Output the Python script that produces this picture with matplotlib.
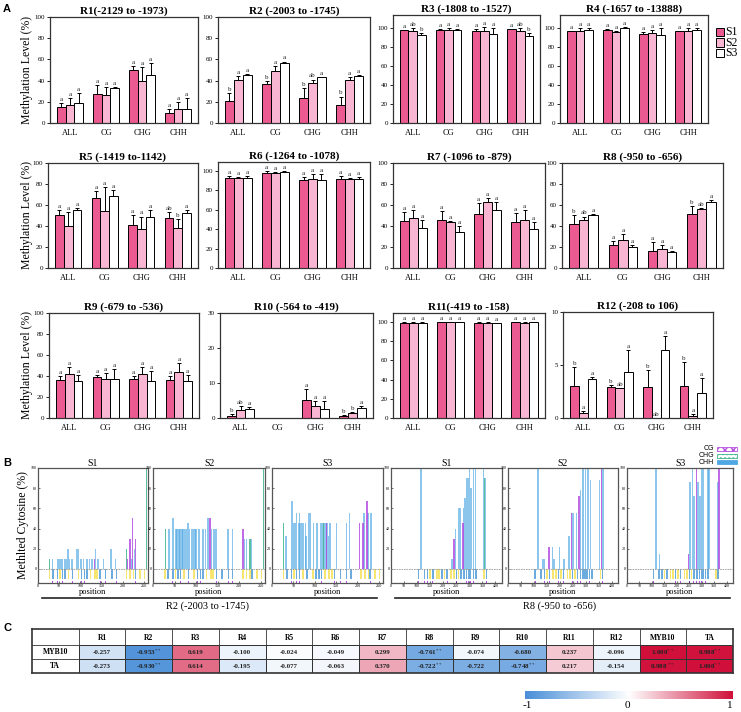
import numpy as np
import matplotlib
matplotlib.use("Agg")
import matplotlib.pyplot as plt
from matplotlib.patches import Rectangle
from matplotlib.lines import Line2D
from matplotlib.colors import LinearSegmentedColormap

plt.rcParams['font.family'] = ['Liberation Serif', 'DejaVu Serif']
plt.rcParams['mathtext.fontset'] = 'stix'

W, H = 741, 712

# ---------------- panel A data ----------------
contexts = ['ALL', 'CG', 'CHG', 'CHH']
samples = ['S1', 'S2', 'S3']
sample_colors = ['#EC5A92', '#F8B6D2', '#FFFFFF']

region_titles = ['R1(-2129 to -1973)', 'R2 (-2003 to -1745)', 'R3 (-1808 to -1527)', 'R4 (-1657 to -13888)',
                 'R5 (-1419 to-1142)', 'R6 (-1264 to -1078)', 'R7 (-1096 to -879)', 'R8 (-950 to -656)',
                 'R9 (-679 to -536)', 'R10 (-564 to -419)', 'R11(-419 to -158)', 'R12 (-208 to 106)']

# rows: ALL, CG, CHG, CHH ; cols: S1, S2, S3
mean_r1 = [[15, 17, 19], [27, 26, 33], [50, 40, 45], [9, 13, 13]]
err_r1 = [[4, 7, 9], [9, 8, 1], [4, 13, 12], [4, 7, 11]]
let_r1 = [['a', 'a', 'a'], ['a', 'a', 'a'], ['a', 'a', 'a'], ['a', 'a', 'a']]

mean_r2 = [[21, 41, 45], [37, 49, 57], [24, 38, 43], [17, 41, 44]]
err_r2 = [[7, 3, 1], [3, 5, 1], [9, 3, 0.5], [8, 2, 1]]
let_r2 = [['b', 'a', 'a'], ['b', 'a', 'a'], ['b', 'ab', 'a'], ['b', 'a', 'a']]

mean_r3 = [[98, 97, 93], [98, 98, 98], [97, 97, 94], [99, 97, 92]]
err_r3 = [[0.5, 3, 2], [1, 2, 1], [2, 4, 6], [0.3, 3, 3]]
let_r3 = [['a', 'ab', 'b'], ['a', 'a', 'a'], ['a', 'a', 'a'], ['a', 'ab', 'b']]

mean_r4 = [[97, 97, 98], [98, 96, 100], [94, 95, 93], [97, 97, 98]]
err_r4 = [[0.5, 3, 2], [1, 1, 1.5], [2, 3, 7], [0.3, 3, 2]]
let_r4 = [['a', 'a', 'a'], ['a', 'a', 'a'], ['a', 'a', 'a'], ['a', 'a', 'a']]

mean_r5 = [[50, 40, 55], [67, 54, 69], [41, 37, 49], [48, 38, 52]]
err_r5 = [[5, 13, 2], [6, 23, 5], [9, 12, 6], [5, 9, 3]]
let_r5 = [['a', 'a', 'a'], ['a', 'a', 'a'], ['a', 'a', 'a'], ['ab', 'b', 'a']]

mean_r6 = [[93, 93, 93], [98, 98, 99], [91, 92, 90], [92, 92, 92]]
err_r6 = [[2, 1, 2], [2, 0.5, 0.5], [3, 5, 7], [3, 0.3, 2]]
let_r6 = [['a', 'a', 'a'], ['a', 'a', 'a'], ['a', 'a', 'a'], ['a', 'a', 'a']]

mean_r7 = [[45, 48, 38], [46, 44, 34], [51, 63, 55], [44, 46, 37]]
err_r7 = [[8, 7, 8], [8, 0.5, 6], [11, 4, 8], [8, 9, 7]]
let_r7 = [['a', 'a', 'a'], ['a', 'a', 'a'], ['a', 'a', 'a'], ['a', 'a', 'a']]

mean_r8 = [[42, 46, 50], [22, 27, 20], [16, 18, 15], [51, 56, 63]]
err_r8 = [[8, 3, 1], [4, 5, 2], [9, 4, 1], [8, 1, 2]]
let_r8 = [['b', 'ab', 'a'], ['a', 'a', 'a'], ['a', 'a', 'a'], ['b', 'ab', 'a']]

mean_r9 = [[36, 42, 35], [39, 37, 37], [37, 42, 35], [36, 44, 35]]
err_r9 = [[4, 7, 6], [2, 6, 10], [3, 7, 10], [4, 8, 6]]
let_r9 = [['a', 'a', 'a'], ['a', 'a', 'a'], ['a', 'a', 'a'], ['a', 'a', 'a']]

mean_r10 = [[0.7, 2.2, 2.6], [0, 0, 0], [5.1, 3.3, 2.6], [0.7, 1.4, 2.9]]
err_r10 = [[0.5, 1.3, 0.5], [0, 0, 0], [3.3, 1.6, 2.2], [0.2, 0.2, 0.5]]
let_r10 = [['b', 'ab', 'a'], ['', '', ''], ['a', 'a', 'a'], ['b', 'b', 'a']]

mean_r11 = [[99.5, 99.5, 99.5], [100, 100, 100], [99.5, 99.5, 99], [100, 99.5, 99.7]]
err_r11 = [[0.5, 0.3, 0.3], [0.2, 0.2, 0.2], [0.5, 0.3, 0.3], [0.2, 0.3, 0.5]]
let_r11 = [['a', 'a', 'a'], ['a', 'a', 'a'], ['a', 'a', 'a'], ['a', 'a', 'a']]

mean_r12 = [[3.0, 0.5, 3.7], [2.9, 2.8, 4.3], [2.9, 0, 6.4], [3.0, 0.2, 2.4]]
err_r12 = [[1.8, 0.2, 0.2], [0.2, 0, 2.1], [1.6, 0, 1.3], [2.3, 0.2, 1.4]]
let_r12 = [['b', 'a', 'a'], ['b', 'ab', 'a'], ['b', 'ab', 'a'], ['b', 'a', 'a']]

a_means = [mean_r1, mean_r2, mean_r3, mean_r4, mean_r5, mean_r6,
           mean_r7, mean_r8, mean_r9, mean_r10, mean_r11, mean_r12]
a_errs = [err_r1, err_r2, err_r3, err_r4, err_r5, err_r6,
          err_r7, err_r8, err_r9, err_r10, err_r11, err_r12]
a_lets = [let_r1, let_r2, let_r3, let_r4, let_r5, let_r6,
          let_r7, let_r8, let_r9, let_r10, let_r11, let_r12]

# ---------------- panel B data ----------------
# (position, % methylated) per context
r2_s1_chh = [(34, 10), (46, 10), (50, 10), (54, 10), (58, 10), (62, 10), (66, 10), (71, 20), (74, 10),
             (79, 10), (82, 10), (92, 20), (96, 20), (102, 10), (108, 10), (116, 10), (122, 10),
             (128, 10), (136, 20), (142, 10), (155, 10), (173, 20), (183, 10), (222, 10), (228, 20)]
r2_s1_chg = [(27, 10), (209, 20), (256, 100)]
r2_s1_cg = [(133, 10), (211, 10), (217, 30), (224, 50), (231, 30)]

r2_s2_chh = [(37, 40), (46, 50), (53, 40), (56, 40), (60, 40), (63, 40), (67, 40), (70, 40), (74, 40),
             (78, 40), (81, 45), (85, 40), (89, 40), (93, 40), (97, 40), (100, 40), (107, 40),
             (116, 40), (122, 40), (128, 50), (136, 40), (140, 40), (144, 40), (147, 40), (174, 40),
             (184, 40), (212, 30), (217, 30), (229, 30)]
r2_s2_chg = [(29, 40), (225, 30), (256, 100)]
r2_s2_cg = [(132, 50), (209, 40)]

r2_s3_chh = [(33, 33), (47, 67), (50, 45), (54, 45), (58, 55), (62, 45), (64, 55), (66, 45), (70, 45),
             (74, 45), (78, 45), (80, 33), (85, 55), (89, 55), (97, 45), (105, 45), (115, 45),
             (118, 45), (122, 45), (126, 45), (129, 45), (132, 33), (136, 45), (151, 45), (174, 45),
             (182, 55), (216, 55), (225, 55), (232, 55)]
r2_s3_chg = [(27, 45), (120, 45)]
r2_s3_cg = [(128, 45), (205, 45), (213, 45), (222, 67)]

r2_neg_chh = [27, 52, 72, 96, 124, 134, 140, 209, 217, 226, 241, 252]
r2_neg_cg = [35, 46, 58, 64, 82, 103, 110, 116, 147, 160, 175, 185, 230]

r8_s1_chh = [(115, 100), (233, 10), (246, 40), (259, 60), (265, 60), (278, 60), (284, 70), (291, 90),
             (297, 90), (301, 100), (307, 80), (316, 100), (323, 100), (355, 100), (361, 90)]
r8_s1_chg = [(358, 90)]
r8_s1_cg = [(242, 30), (276, 45)]

r8_s2_chh = [(116, 100), (135, 10), (141, 10), (171, 22), (178, 10), (200, 22), (216, 10), (236, 33),
             (251, 55), (264, 55), (280, 78), (287, 100), (292, 100), (300, 100), (309, 100),
             (318, 88), (354, 88), (367, 100)]
r8_s2_chg = []
r8_s2_cg = [(158, 22), (245, 55), (274, 72), (361, 100)]

r8_s3_chh = [(117, 100), (130, 15), (252, 86), (263, 100), (268, 72), (285, 86), (292, 72), (299, 100),
             (305, 100), (325, 100), (329, 100), (365, 86)]
r8_s3_chg = []
r8_s3_cg = [(246, 15), (279, 100), (369, 100)]

r8_neg_chh = [150, 175, 185, 205, 230, 240, 258, 357]
r8_neg_cg = [105, 128, 140, 160, 195, 215, 250, 268, 280, 290, 298, 305, 315, 325, 365]

# ---------------- panel C data ----------------
corr_cols = ['R1', 'R2', 'R3', 'R4', 'R5', 'R6', 'R7', 'R8', 'R9', 'R10', 'R11', 'R12', 'MYB10', 'TA']
corr_rows = ['MYB10', 'TA']
corr_myb10 = [-0.257, -0.953, 0.619, -0.100, -0.024, -0.049, 0.299, -0.761, -0.074, -0.680, 0.237, -0.096, 1.000, 0.988]
corr_ta = [-0.273, -0.930, 0.614, -0.195, -0.077, -0.063, 0.370, -0.722, -0.722, -0.748, 0.217, -0.154, 0.988, 1.000]
sig_myb10 = ['', '**', '', '', '', '', '', '**', '', '', '', '', '**', '**']
sig_ta = ['', '**', '', '', '', '', '', '**', '', '**', '', '', ' **', '**']

fig = plt.figure(figsize=(W / 100, H / 100), dpi=100)


def px_axes(l, t, r, b):
    return fig.add_axes([l / W, 1 - b / H, (r - l) / W, (b - t) / H])


# ---------------- panel A ----------------
a_boxes = [(50, 17, 198, 123), (218, 17, 370, 123), (393, 15, 540, 123), (560, 15, 708, 123),
           (48, 163, 198, 268), (218, 162, 370, 268), (393, 163, 545, 268), (562, 163, 723, 268),
           (49, 313, 199, 418), (220, 313, 373, 418), (393, 313, 545, 418), (563, 312, 713, 418)]
a_tops = [100, 100, 114, 114, 100, 109, 100, 100, 100, 30, 109.5, 10]
a_ticks = [np.arange(0, 101, 20)] * 9 + [np.arange(0, 31, 10), np.arange(0, 101, 20), np.arange(0, 11, 5)]

bw = 0.24
for i in range(12):
    ax = px_axes(*a_boxes[i])
    mean = np.array(a_means[i], dtype=float)
    err = np.array(a_errs[i], dtype=float)
    top = a_tops[i]
    x = np.arange(4)
    for k in range(3):
        xs = x + (k - 1) * bw
        ax.bar(xs, mean[:, k], bw, color=sample_colors[k], edgecolor='k', linewidth=0.7, zorder=2)
        keep = (mean[:, k] > 0) | (err[:, k] > 0)
        ax.errorbar(xs[keep], mean[keep, k], yerr=[np.zeros(keep.sum()), err[keep, k]], fmt='none',
                    ecolor='k', elinewidth=0.7, capsize=1.6, capthick=0.7, zorder=3)
        for j in range(4):
            lab = a_lets[i][j][k]
            if lab:
                ax.text(xs[j], mean[j, k] + err[j, k] + top * 0.01, lab, ha='center', va='bottom',
                        fontsize=5, color='#222')
    ax.set_xlim(-0.55, 3.55)
    ax.set_ylim(0, top)
    ax.set_yticks(a_ticks[i])
    ax.set_xticks(x)
    ax.set_xticklabels(contexts)
    ax.tick_params(axis='y', labelsize=5, length=2, width=0.6, pad=1.5)
    ax.tick_params(axis='x', labelsize=6, length=0, pad=4)
    for s in ax.spines.values():
        s.set_linewidth(0.9)
        s.set_color('#333')
    ax.set_title(region_titles[i], fontsize=8, fontweight='bold', pad=2)

for yc in [70, 215, 365]:
    fig.text(27 / W, 1 - yc / H, 'Methylation Level (%)', rotation=90, ha='center', va='center', fontsize=8.5)

# legend S1-S3
for k, (lab, c) in enumerate(zip(samples, sample_colors)):
    yc = 32 + 10.5 * k
    fig.add_artist(Rectangle((716 / W, 1 - (yc + 4) / H), 8 / W, 8 / H, facecolor=c, edgecolor='k',
                             linewidth=0.7, transform=fig.transFigure))
    fig.text(725 / W, 1 - yc / H, lab, ha='left', va='center', fontsize=8.5)

# ---------------- panel B ----------------
b_boxes = [(38, 468, 148, 583), (153, 468, 265, 583), (272, 468, 383, 583),
           (391, 468, 502, 583), (508, 468, 618, 583), (627, 468, 733, 583)]
b_data = [(r2_s1_chh, r2_s1_chg, r2_s1_cg), (r2_s2_chh, r2_s2_chg, r2_s2_cg), (r2_s3_chh, r2_s3_chg, r2_s3_cg),
          (r8_s1_chh, r8_s1_chg, r8_s1_cg), (r8_s2_chh, r8_s2_chg, r8_s2_cg), (r8_s3_chh, r8_s3_chg, r8_s3_cg)]
c_chh, c_chg, c_cg = '#4FA8E4', '#3DB58C', '#B650E2'

for i in range(6):
    ax = px_axes(*b_boxes[i])
    left = i < 3
    xmax = 260 if left else 425
    w = 3.4 if left else 5.5
    neg_chh, neg_cg = (r2_neg_chh, r2_neg_cg) if left else (r8_neg_chh, r8_neg_cg)
    ax.bar(neg_chh, [-10] * len(neg_chh), w * 1.2, color='#F4E04D', alpha=0.8, zorder=1)
    ax.bar(neg_cg, [-10] * len(neg_cg), w, color='#3A8FD2', alpha=0.75, zorder=1)
    ax.bar(neg_cg, [1.5] * len(neg_cg), w * 0.5, bottom=-14, color=c_cg, zorder=1)
    chh, chg, cg = b_data[i]
    for pts, col, al in [(chh, c_chh, 0.65), (chg, c_chg, 0.85), (cg, c_cg, 0.85)]:
        if pts:
            p = [a for a, b in pts]
            h = [b for a, b in pts]
            ax.bar(p, h, w, color=col, alpha=al, zorder=2, linewidth=0)
    ax.axhline(0, color='#999', lw=0.6, ls=(0, (2, 1)), zorder=3)
    ax.set_xlim(0, xmax)
    ax.set_ylim(-14, 100)
    ax.set_xticks(np.arange(0, xmax, 50))
    ax.set_yticks(np.arange(0, 101, 20))
    ax.tick_params(labelsize=3, length=1.2, width=0.4, pad=1, direction='in')
    for s in ax.spines.values():
        s.set_linewidth(0.9)
        s.set_color('#555')
    ax.set_title(samples[i % 3], fontsize=7, pad=1.5)
    ax.set_xlabel('position', fontsize=6, labelpad=0)

fig.text(23 / W, 1 - 525 / H, 'Methlted Cytosine (%)', rotation=90, ha='center', va='center', fontsize=8.5)
fig.add_artist(Line2D([42 / W, 377 / W], [1 - 598 / H] * 2, color='#222', lw=1.2))
fig.add_artist(Line2D([395 / W, 730 / W], [1 - 598 / H] * 2, color='#222', lw=1.2))
fig.text(208 / W, 1 - 606 / H, 'R2 (-2003 to -1745)', ha='center', va='center', fontsize=7.5)
fig.text(560 / W, 1 - 606 / H, 'R8 (-950 to -656)', ha='center', va='center', fontsize=7.5)

# panel B legend
for k, (lab, fc, ec, hatch) in enumerate([('CG', 'white', c_cg, 'xxxx'), ('CHG', 'white', c_chg, '....'),
                                           ('CHH', c_chh, c_chh, None)]):
    yc = 449 + 6.5 * k
    fig.add_artist(Rectangle((717 / W, 1 - (yc + 2) / H), 20 / W, 4 / H, facecolor=fc, edgecolor=ec,
                             hatch=hatch, linewidth=0.6, transform=fig.transFigure))
    fig.text(714 / W, 1 - yc / H, lab, ha='right', va='center', fontsize=5, family='Liberation Sans')

# ---------------- panel C ----------------
cmap = LinearSegmentedColormap.from_list('bwr_c', ['#4A8ED8', '#FFFFFF', '#D0103A'])
tab = px_axes(32, 629, 733, 673)
vals = np.array([corr_myb10, corr_ta])
tab.pcolormesh(np.arange(1, 16), [16, 30, 44], vals, cmap=cmap, vmin=-1, vmax=1,
               edgecolors='#333', linewidth=0.6)
tab.set_xlim(0, 15)
tab.set_ylim(44, 0)
for xv in range(1, 15):
    tab.axvline(xv, color='#333', lw=0.6)
for yv in [16, 30]:
    tab.axhline(yv, color='#333', lw=0.6)
tab.set_xticks([])
tab.set_yticks([])
for s in tab.spines.values():
    s.set_linewidth(1.2)
    s.set_color('#333')
for j, name in enumerate(corr_cols):
    tab.text(j + 1.5, 8.5, name, ha='center', va='center', fontsize=5.5, fontweight='bold')
for r, (name, row, sig) in enumerate(zip(corr_rows, [corr_myb10, corr_ta], [sig_myb10, sig_ta])):
    yc = 23 + 14 * r
    tab.text(0.5, yc, name, ha='center', va='center', fontsize=5.5, fontweight='bold')
    for j, v in enumerate(row):
        s = f'{v:.3f}'
        if sig[j]:
            s += r'$^{' + sig[j].strip() + '}$' if sig[j] == '**' else r' $^{**}$'
        tab.text(j + 1.5, yc, s, ha='center', va='center', fontsize=5, fontweight='bold', color='#222')

cb = px_axes(525, 691, 733, 699)
cb.imshow(np.linspace(-1, 1, 256)[None, :], aspect='auto', cmap=cmap, vmin=-1, vmax=1, extent=[-1, 1, 0, 1])
cb.set_xticks([])
cb.set_yticks([])
for s in cb.spines.values():
    s.set_visible(False)
for lab, xp in [('-1', 527), ('0', 627), ('1', 730)]:
    fig.text(xp / W, 1 - 706 / H, lab, ha='center', va='center', fontsize=8)

# panel letters
for lab, yp in [('A', 9), ('B', 463), ('C', 628)]:
    fig.text(3 / W, 1 - yp / H, lab, ha='left', va='center', fontsize=8, fontweight='bold',
             family='Liberation Sans')

fig.savefig('out.png', dpi=100)
